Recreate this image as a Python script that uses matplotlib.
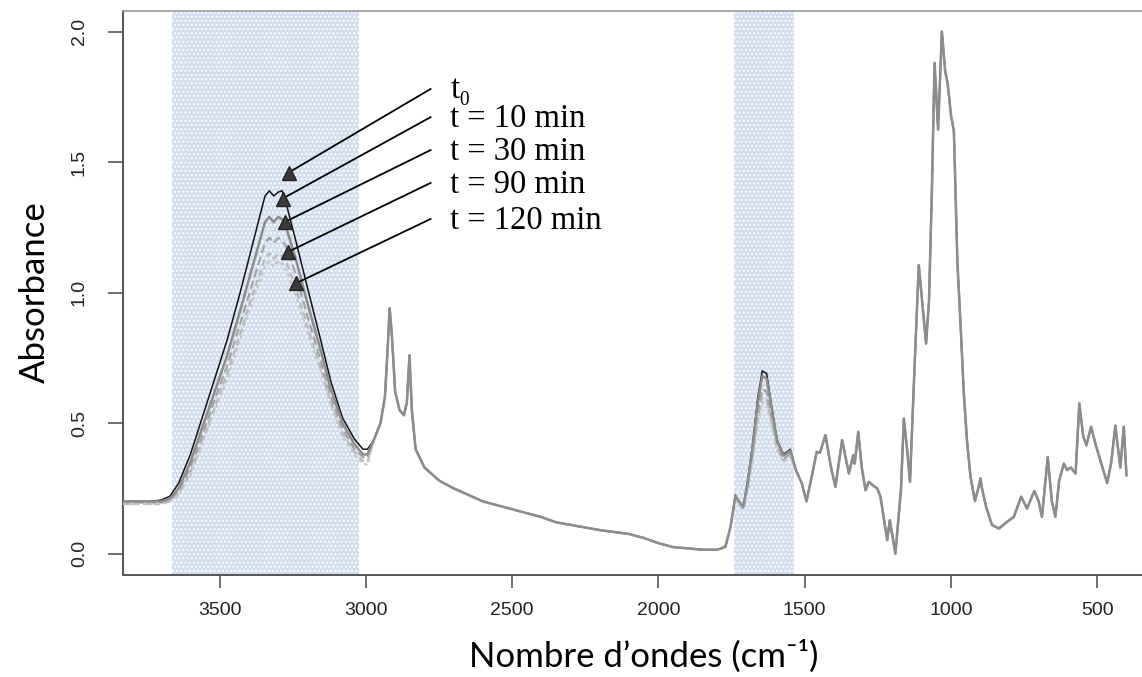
import matplotlib
matplotlib.use("Agg")
import matplotlib.pyplot as plt
import numpy as np

# ---------------- data ----------------
# O-H stretching region (differs between times)
wn_oh = [3831, 3780, 3740, 3700, 3670, 3640, 3600, 3560, 3520, 3474, 3430, 3400,
         3370, 3345, 3330, 3315, 3300, 3286, 3270, 3240, 3200, 3155, 3120, 3080,
         3040, 3010, 2995]
oh_t0 = [0.20, 0.20, 0.20, 0.205, 0.22, 0.27, 0.38, 0.52, 0.66, 0.82, 1.00, 1.13,
         1.26, 1.37, 1.39, 1.37, 1.385, 1.39, 1.33, 1.20, 1.02, 0.82, 0.66, 0.52,
         0.44, 0.40, 0.40]
oh_t10 = [0.20, 0.20, 0.20, 0.20, 0.21, 0.25, 0.35, 0.48, 0.61, 0.76, 0.93, 1.05,
          1.17, 1.27, 1.29, 1.27, 1.29, 1.28, 1.24, 1.13, 0.96, 0.78, 0.63, 0.50,
          0.42, 0.38, 0.38]
oh_t30 = [0.195, 0.195, 0.195, 0.195, 0.205, 0.24, 0.33, 0.45, 0.58, 0.72, 0.88, 0.99,
          1.10, 1.19, 1.21, 1.19, 1.21, 1.20, 1.17, 1.07, 0.91, 0.74, 0.60, 0.48,
          0.40, 0.37, 0.365]
oh_t90 = [0.19, 0.19, 0.19, 0.19, 0.20, 0.23, 0.31, 0.43, 0.55, 0.69, 0.84, 0.95,
          1.05, 1.13, 1.15, 1.13, 1.15, 1.14, 1.11, 1.02, 0.87, 0.71, 0.58, 0.46,
          0.39, 0.355, 0.35]
oh_t120 = [0.19, 0.19, 0.19, 0.19, 0.20, 0.225, 0.30, 0.42, 0.54, 0.67, 0.82, 0.93,
           1.02, 1.10, 1.12, 1.10, 1.12, 1.11, 1.08, 0.99, 0.85, 0.70, 0.57, 0.45,
           0.38, 0.345, 0.34]

# C-H region and baseline (common to all times)
wn_mid = [2975, 2950, 2935, 2925, 2919, 2912, 2900, 2885, 2870, 2860, 2851, 2843,
          2830, 2800, 2750, 2700, 2600, 2500, 2400, 2350, 2300, 2200, 2100, 2050,
          2000, 1950, 1900, 1850, 1800, 1785]
a_mid = [0.43, 0.50, 0.60, 0.80, 0.94, 0.85, 0.62, 0.55, 0.53, 0.58, 0.76, 0.55,
         0.40, 0.33, 0.28, 0.25, 0.20, 0.17, 0.14, 0.12, 0.11, 0.09, 0.075, 0.06,
         0.04, 0.025, 0.02, 0.015, 0.015, 0.02]

# water bending region (differs between times)
wn_am = [1771, 1754, 1737, 1725, 1710, 1695, 1679, 1660, 1645, 1630, 1615, 1594,
         1572, 1549, 1530]
am_t0 = [0.026, 0.10, 0.224, 0.20, 0.18, 0.28, 0.41, 0.60, 0.70, 0.69, 0.58, 0.435,
         0.38, 0.40, 0.32]
am_t10 = [0.026, 0.10, 0.22, 0.20, 0.18, 0.27, 0.40, 0.58, 0.68, 0.67, 0.57, 0.43,
          0.375, 0.395, 0.32]
am_t30 = [0.03, 0.10, 0.215, 0.195, 0.175, 0.26, 0.37, 0.54, 0.63, 0.62, 0.53, 0.41,
          0.36, 0.385, 0.32]
am_t90 = [0.03, 0.10, 0.21, 0.19, 0.17, 0.25, 0.36, 0.52, 0.60, 0.59, 0.51, 0.40,
          0.355, 0.38, 0.32]
am_t120 = [0.03, 0.10, 0.21, 0.19, 0.17, 0.245, 0.35, 0.50, 0.58, 0.57, 0.50, 0.395,
           0.35, 0.375, 0.32]

# fingerprint region (common to all times)
wn_low = [1510, 1494, 1475, 1459, 1448, 1429, 1410, 1395, 1372, 1349, 1334, 1329,
          1317, 1305, 1292, 1281, 1265, 1252, 1241, 1218, 1209, 1190, 1171, 1161,
          1150, 1140, 1125, 1110, 1097, 1085, 1075, 1065, 1056, 1044, 1031, 1020,
          1011, 1000, 990, 978, 966, 956, 945, 933, 918, 905, 899, 895, 880, 860,
          848, 836, 810, 785, 760, 740, 715, 700, 689, 669, 655, 643, 630, 614,
          603, 590, 574, 561, 548, 537, 521, 506, 490, 466, 452, 438, 421, 409, 400]
a_low = [0.27, 0.20, 0.30, 0.39, 0.386, 0.454, 0.33, 0.256, 0.435, 0.307, 0.377, 0.345,
         0.467, 0.33, 0.243, 0.275, 0.26, 0.25, 0.218, 0.052, 0.128, 0.0, 0.243, 0.518,
         0.40, 0.275, 0.70, 1.105, 0.95, 0.805, 0.97, 1.40, 1.88, 1.625, 2.0, 1.85,
         1.80, 1.68, 1.62, 1.12, 0.85, 0.615, 0.43, 0.294, 0.202, 0.256, 0.288, 0.256,
         0.18, 0.11, 0.103, 0.096, 0.12, 0.141, 0.218, 0.173, 0.24, 0.20, 0.141, 0.37,
         0.20, 0.141, 0.28, 0.345, 0.32, 0.33, 0.307, 0.575, 0.45, 0.415, 0.486, 0.42,
         0.36, 0.27, 0.35, 0.49, 0.33, 0.486, 0.30]

labels = ["t\u2080", "t = 10 min", "t = 30 min", "t = 90 min", "t = 120 min"]
oh_series = [oh_t0, oh_t10, oh_t30, oh_t90, oh_t120]
am_series = [am_t0, am_t10, am_t30, am_t90, am_t120]

xticks = [3500, 3000, 2500, 2000, 1500, 1000, 500]
yticks = [0.0, 0.5, 1.0, 1.5, 2.0]
bands = [(3664, 3025), (1740, 1538)]

# ---------------- figure ----------------
fig = plt.figure(figsize=(11.42, 6.77), dpi=100)
ax = fig.add_axes([0.1073, 0.1514, 0.9129, 0.8328])
ax.set_xlim(3832, 268)
ax.set_ylim(-0.08, 2.08)

for lo, hi in bands:
    ax.axvspan(hi, lo, facecolor="#d3dff0", edgecolor="#ffffff", hatch="....",
               linewidth=0, zorder=0)

styles = [
    dict(color="#111111", lw=1.1, ls="-", zorder=3),
    dict(color="#8c8c8c", lw=1.8, ls="-", zorder=5),
    dict(color="#a0a0a0", lw=1.5, ls=(0, (4, 2)), zorder=4),
    dict(color="#b4b4b4", lw=1.5, ls=(0, (3, 2)), zorder=4),
    dict(color="#c4c4c4", lw=1.6, ls=(0, (1.5, 1.5)), zorder=4),
]

for oh, am, st in zip(oh_series, am_series, styles):
    x = np.concatenate([wn_oh, wn_mid, wn_am, wn_low])
    y = np.concatenate([oh, a_mid, am, a_low])
    ax.plot(x, y, **st)

# annotations (arrows from labels to curves)
tri_pos = [(3264, 1.46), (3285, 1.36), (3278, 1.27), (3268, 1.155), (3240, 1.035)]
line_end = [(2779, 1.78), (2779, 1.672), (2779, 1.546), (2779, 1.42), (2779, 1.282)]
text_pos = [(2711, 1.745), (2711, 1.634), (2711, 1.507), (2711, 1.381), (2711, 1.243)]
for lab, tp, le, tx in zip(labels, tri_pos, line_end, text_pos):
    ax.plot([le[0], tp[0]], [le[1], tp[1]], color="black", lw=1.3, zorder=6)
    ax.plot([tp[0]], [tp[1]], marker="^", ms=10, color="#3a3a3a", mec="#222222",
            zorder=7)
    ax.text(tx[0], tx[1], lab, fontsize=23.5, va="baseline", ha="left",
            family=["Liberation Serif", "DejaVu Serif"], zorder=8)

# axes styling (R-like)
for side in ["top", "right"]:
    ax.spines[side].set_color("#999999")
    ax.spines[side].set_linewidth(1.2)
for side in ["left", "bottom"]:
    ax.spines[side].set_color("#555555")
    ax.spines[side].set_linewidth(1.4)

ax.set_xticks(xticks)
ax.set_xticklabels([str(v) for v in xticks])
ax.set_yticks(yticks)
ax.set_yticklabels([f"{v:.1f}" for v in yticks], rotation=90, va="center")
ax.tick_params(axis="x", length=9, width=1.2, color="#555555", pad=11,
               labelsize=14, labelcolor="#222222")
ax.tick_params(axis="y", length=11, width=1.2, color="#555555", pad=14,
               labelsize=14, labelcolor="#222222")
for lbl in ax.get_xticklabels() + ax.get_yticklabels():
    lbl.set_family("Liberation Sans")

ax.set_xlabel("Nombre d\u2019ondes (cm\u207b\u00b9)", fontsize=25,
              family=["Lato", "DejaVu Sans"], labelpad=15)
ax.set_ylabel("Absorbance", fontsize=25, family=["Lato", "DejaVu Sans"],
              labelpad=14)

fig.savefig("out.png", dpi=100)
